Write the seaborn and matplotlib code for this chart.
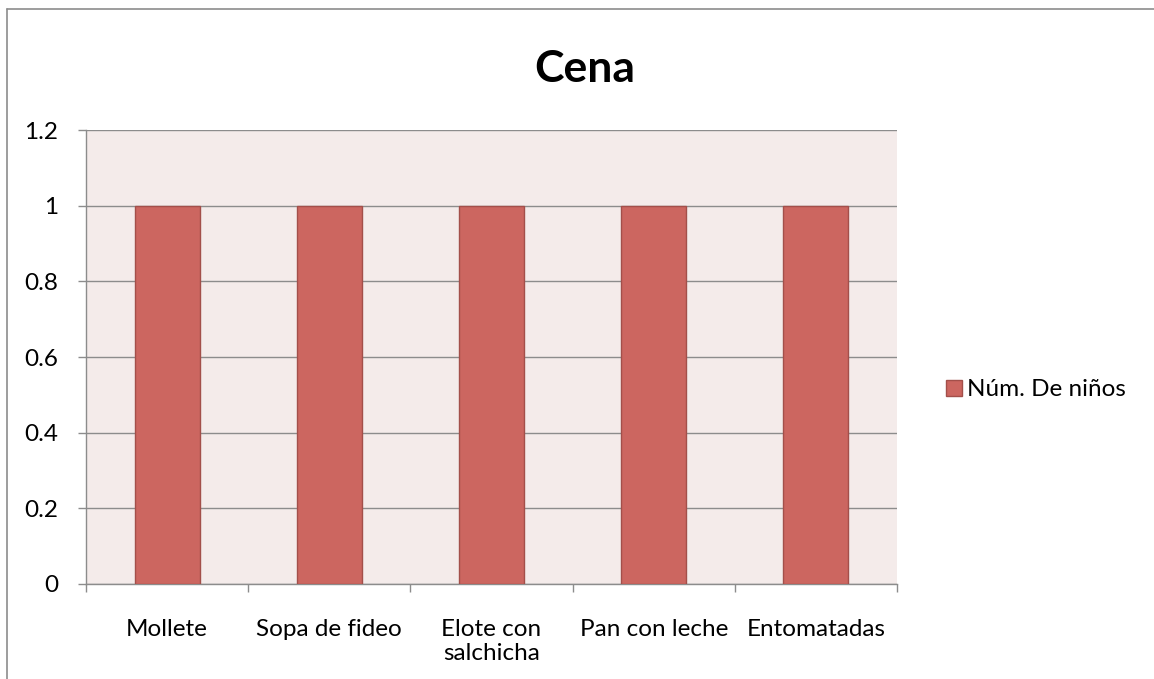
import matplotlib
matplotlib.use("Agg")
import matplotlib.pyplot as plt
import seaborn as sns
import pandas as pd
from matplotlib.lines import Line2D
from matplotlib.patches import Patch

categories = ["Mollete", "Sopa de fideo", "Elote con\nsalchicha", "Pan con leche", "Entomatadas"]
values = [1, 1, 1, 1, 1]
series_name = "Núm. De niños"
title = "Cena"
yticks = [0, 0.2, 0.4, 0.6, 0.8, 1, 1.2]
ytick_labels = ["0", "0.2", "0.4", "0.6", "0.8", "1", "1.2"]

sns.set_style("white")
plt.rcParams['font.family'] = ['Lato', 'DejaVu Sans']
plt.rcParams['text.color'] = 'black'
plt.rcParams['xtick.color'] = 'black'
plt.rcParams['ytick.color'] = 'black'

df = pd.DataFrame({"cat": categories, "val": values})

fig = plt.figure(figsize=(11.54, 6.79), dpi=100)
ax = fig.add_axes([86/1154, 1-584/679, (897-86)/1154, (584-130)/679])
ax.set_facecolor("#F4EBEA")

bar_color = "#CC6660"
edge_color = "#A34F4A"
sns.barplot(data=df, x="cat", y="val", color=bar_color, width=0.4,
            edgecolor=edge_color, linewidth=1.0, ax=ax, saturation=1, zorder=3)

FS = 17.5
ax.set_ylim(0, 1.2)
ax.set_xlim(-0.5, len(categories) - 0.5)
ax.set_yticks(yticks)
ax.set_yticklabels(ytick_labels, fontsize=FS)
ax.yaxis.grid(True, color="#8C8C8C", linewidth=1.0, zorder=0)
ax.xaxis.grid(False)
ax.set_axisbelow(True)
ax.set_xlabel("")
ax.set_ylabel("")

ax.set_xticks(range(len(categories)))
ax.set_xticklabels(categories, fontsize=FS, linespacing=1.2, va="top")
ax.tick_params(axis="x", length=0, pad=25)
ax.tick_params(axis="y", length=6, color="#8C8C8C", width=1.0, direction="out", pad=14, left=True)
ax.set_xticks([i - 0.5 for i in range(len(categories) + 1)], minor=True)
ax.tick_params(axis="x", which="minor", length=6, color="#8C8C8C", width=1.0, direction="out", bottom=True)

for s in ["top", "right"]:
    ax.spines[s].set_visible(False)
for s in ["left", "bottom"]:
    ax.spines[s].set_visible(True)
    ax.spines[s].set_color("#8C8C8C")
    ax.spines[s].set_linewidth(1.0)

fig.text(585/1154, 1-69/679, title, fontsize=32, fontweight="bold", ha="center", va="center", color="black")

handles = [Patch(facecolor=bar_color, edgecolor=edge_color, linewidth=1.0, label=series_name)]
fig.legend(handles=handles, loc="center left", bbox_to_anchor=(946/1154, 1-390/679),
           frameon=False, fontsize=FS, handlelength=0.65, handleheight=0.65,
           handletextpad=0.2, borderpad=0, borderaxespad=0)

fig.add_artist(Line2D([7/1154, 1], [1-9/679, 1-9/679], color="#8C8C8C", linewidth=1.2, transform=fig.transFigure))
fig.add_artist(Line2D([7/1154, 7/1154], [0, 1-9/679], color="#8C8C8C", linewidth=1.2, transform=fig.transFigure))

fig.savefig("out.png", dpi=100, facecolor="white")
